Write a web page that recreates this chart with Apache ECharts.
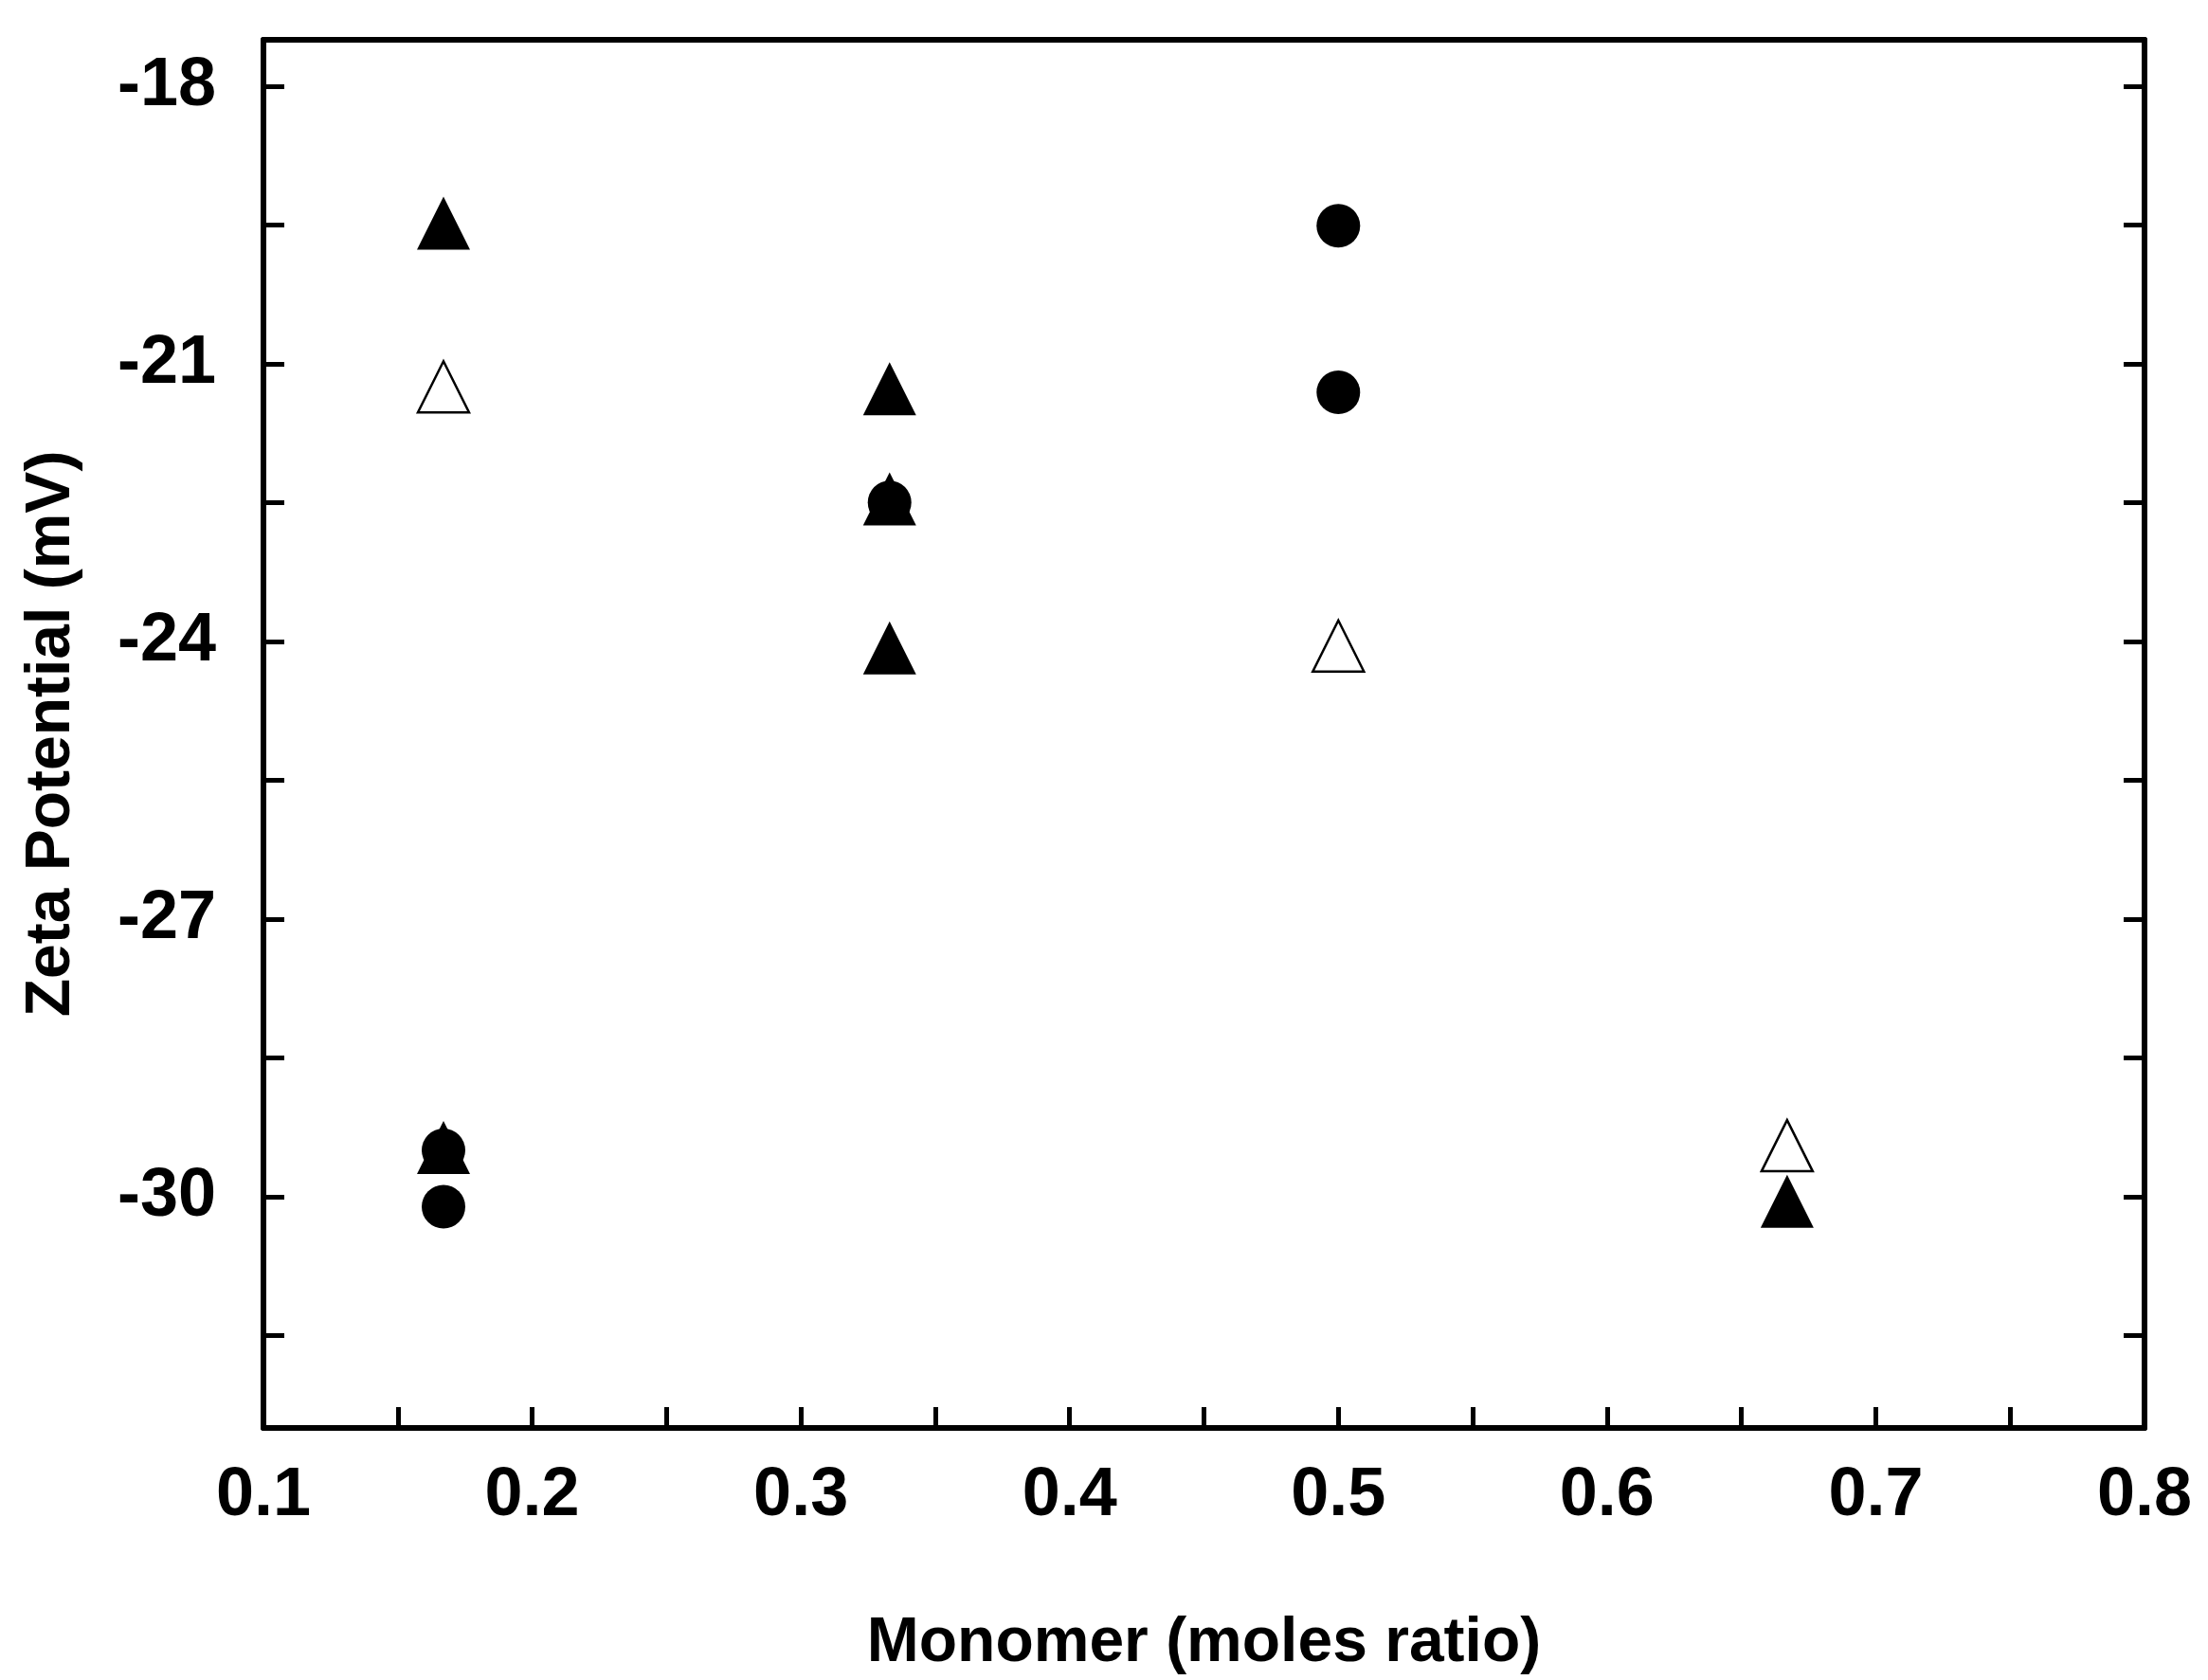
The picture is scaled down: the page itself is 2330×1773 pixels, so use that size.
<!DOCTYPE html>
<html>
<head>
<meta charset="utf-8">
<script src="https://cdn.jsdelivr.net/npm/echarts@6/dist/echarts.min.js"></script>
<style>html,body{margin:0;padding:0;background:#fff}#main{width:2330px;height:1773px}</style>
</head>
<body>
<div id="main"></div>
<script>
// data: [moles ratio, zeta potential]
var filledTriangles = [[0.167, -19.48], [0.333, -21.27], [0.333, -22.46], [0.333, -24.07], [0.167, -29.47], [0.667, -30.05]];
var openTriangles = [[0.167, -21.25], [0.5, -24.05], [0.667, -29.45]];
var circles = [[0.5, -19.51], [0.5, -21.31], [0.333, -22.5], [0.167, -29.5], [0.167, -30.11]];
var yLabels = [-30, -27, -24, -21, -18];
var yTicks = [-31.5, -30, -28.5, -27, -25.5, -24, -22.5, -21, -19.5, -18];

var myChart = echarts.init(document.getElementById('main'));

var font = 'Liberation Sans, Arial, sans-serif';
var axisLine = { show: true, lineStyle: { color: '#000', width: 6 } };

var option = {
    backgroundColor: '#fff',
    grid: { left: 278, right: 67, top: 42, bottom: 257 },
    xAxis: [{
        type: 'value', min: 0.1, max: 0.8, interval: 0.05,
        name: 'Monomer (moles ratio)', nameLocation: 'middle', nameGap: 195,
        nameTextStyle: { fontFamily: font, fontWeight: 'bold', fontSize: 66, color: '#000' },
        axisLine: axisLine,
        axisTick: { inside: true, length: 22, lineStyle: { width: 5, color: '#000' } },
        axisLabel: {
            margin: 36, fontFamily: font, fontWeight: 'bold', fontSize: 72, color: '#000',
            formatter: function (v) { return Math.round(v * 100) % 10 === 0 ? v.toFixed(1) : ''; }
        },
        splitLine: { show: false }
    }, {
        type: 'value', min: 0.1, max: 0.8, position: 'top',
        axisLine: axisLine, axisTick: { show: false }, axisLabel: { show: false }, splitLine: { show: false }
    }],
    yAxis: [{
        type: 'value', min: -32.5, max: -17.5,
        name: 'Zeta Potential (mV)', nameLocation: 'middle', nameGap: 190, nameRotate: 90,
        nameTextStyle: { fontFamily: font, fontWeight: 'bold', fontSize: 66, color: '#000' },
        axisLine: axisLine,
        axisTick: { inside: true, length: 22, customValues: yTicks, lineStyle: { width: 5, color: '#000' } },
        axisLabel: { margin: 50, customValues: yLabels, fontFamily: font, fontWeight: 'bold', fontSize: 72, color: '#000' },
        splitLine: { show: false }
    }, {
        type: 'value', min: -32.5, max: -17.5, position: 'right',
        axisLine: axisLine,
        axisTick: { inside: true, length: 22, customValues: yTicks, lineStyle: { width: 5, color: '#000' } },
        axisLabel: { show: false }, splitLine: { show: false }
    }],
    series: [{
        type: 'scatter', data: circles, symbol: 'circle', symbolSize: 46,
        itemStyle: { color: '#000', opacity: 1 }
    }, {
        type: 'scatter', data: filledTriangles, symbol: 'triangle', symbolSize: 56,
        itemStyle: { color: '#000', opacity: 1 }
    }, {
        type: 'scatter', data: openTriangles, symbol: 'triangle', symbolSize: 54,
        itemStyle: { color: '#fff', borderColor: '#000', borderWidth: 2.5, opacity: 1 }
    }]
};

myChart.setOption(option);
</script>
</body>
</html>
